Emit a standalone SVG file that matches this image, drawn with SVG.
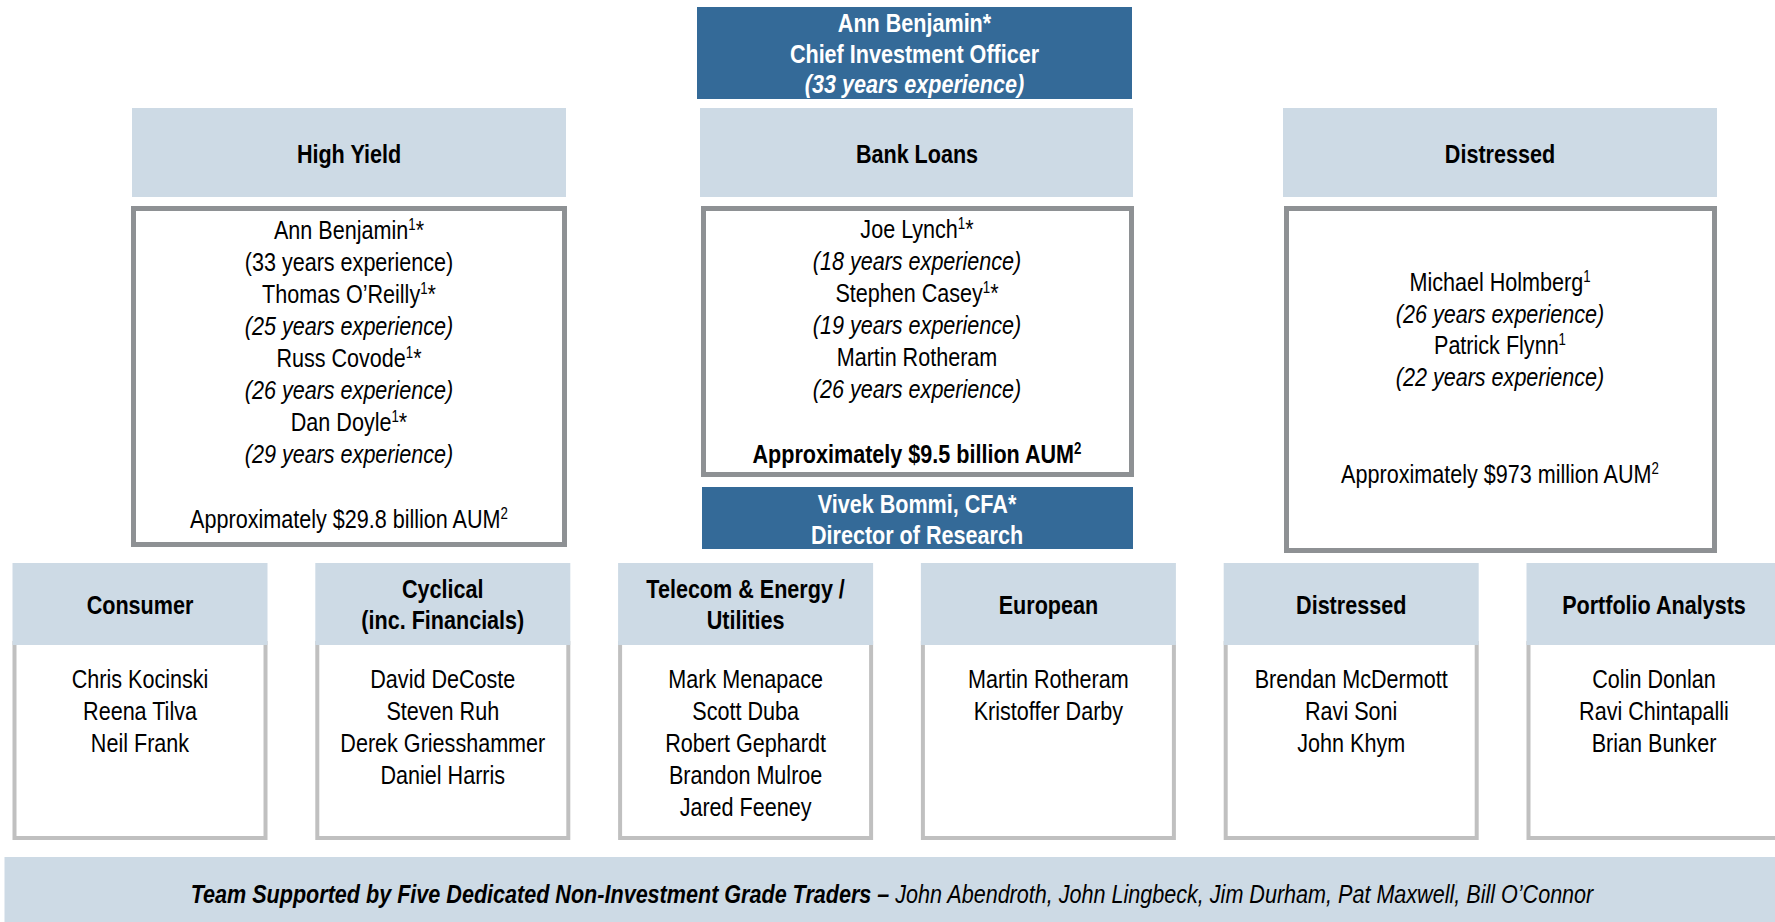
<svg xmlns="http://www.w3.org/2000/svg" width="1775" height="922" viewBox="0 0 1775 922">
  <style>
    .t { font-family: "Liberation Sans Narrow", "Arial Narrow", "Liberation Sans", Arial, sans-serif; font-size: 26px; fill: #000; text-anchor: middle; }
    .b { font-weight: bold; }
    .i { font-style: italic; }
    .w { fill: #fff; }
    .sup { font-size: 16px; }
    .dark { fill: #346a98; }
    .head { fill: #cddae5; }
    .frame { fill: #fff; stroke: #8e9194; stroke-width: 5; }
    .card { fill: #fff; stroke: #c0c0c0; stroke-width: 4; }
  </style>

  <!-- Chief Investment Officer -->
  <g id="cio">
    <rect class="dark" x="697" y="7" width="435" height="92"/>
    <g transform="translate(914.5 1.5) scale(0.83 1)">
      <text class="t b w" x="0" y="31">Ann Benjamin*</text>
      <text class="t b w" x="0" y="62">Chief Investment Officer</text>
      <text class="t b i w" x="0" y="92">(33 years experience)</text>
    </g>
  </g>

  <!-- High Yield -->
  <g id="high-yield">
    <rect class="head" x="132" y="108" width="434" height="89"/>
    <rect class="frame" x="133.5" y="208.5" width="431" height="336"/>
    <g transform="translate(349 1.5) scale(0.83 1)">
      <text class="t b" x="0" y="162">High Yield</text>
      <text class="t" x="0" y="238">Ann Benjamin<tspan class="sup" dy="-9">1</tspan><tspan dy="9">*</tspan></text>
      <text class="t" x="0" y="270">(33 years experience)</text>
      <text class="t" x="0" y="302">Thomas O’Reilly<tspan class="sup" dy="-9">1</tspan><tspan dy="9">*</tspan></text>
      <text class="t i" x="0" y="334">(25 years experience)</text>
      <text class="t" x="0" y="366">Russ Covode<tspan class="sup" dy="-9">1</tspan><tspan dy="9">*</tspan></text>
      <text class="t i" x="0" y="398">(26 years experience)</text>
      <text class="t" x="0" y="430">Dan Doyle<tspan class="sup" dy="-9">1</tspan><tspan dy="9">*</tspan></text>
      <text class="t i" x="0" y="462">(29 years experience)</text>
      <text class="t" x="0" y="527">Approximately $29.8 billion AUM<tspan class="sup" dy="-9">2</tspan></text>
    </g>
  </g>

  <!-- Bank Loans -->
  <g id="bank-loans">
    <rect class="head" x="700" y="108" width="433" height="89"/>
    <rect class="frame" x="703.5" y="208.5" width="428" height="266"/>
    <g transform="translate(917 1.5) scale(0.83 1)">
      <text class="t b" x="0" y="162">Bank Loans</text>
      <text class="t" x="0" y="237">Joe Lynch<tspan class="sup" dy="-9">1</tspan><tspan dy="9">*</tspan></text>
      <text class="t i" x="0" y="269">(18 years experience)</text>
      <text class="t" x="0" y="301">Stephen Casey<tspan class="sup" dy="-9">1</tspan><tspan dy="9">*</tspan></text>
      <text class="t i" x="0" y="333">(19 years experience)</text>
      <text class="t" x="0" y="365">Martin Rotheram</text>
      <text class="t i" x="0" y="397">(26 years experience)</text>
      <text class="t b" x="0" y="462">Approximately $9.5 billion AUM<tspan class="sup" dy="-9">2</tspan></text>
    </g>
  </g>

  <!-- Director of Research -->
  <g id="research">
    <rect class="dark" x="702" y="487" width="431" height="62"/>
    <g transform="translate(917 1.5) scale(0.83 1)">
      <text class="t b w" x="0" y="512">Vivek Bommi, CFA*</text>
      <text class="t b w" x="0" y="543">Director of Research</text>
    </g>
  </g>

  <!-- Distressed -->
  <g id="distressed">
    <rect class="head" x="1283" y="108" width="434" height="89"/>
    <rect class="frame" x="1286.5" y="208.5" width="428" height="342"/>
    <g transform="translate(1500 1.5) scale(0.83 1)">
      <text class="t b" x="0" y="162">Distressed</text>
      <text class="t" x="0" y="290">Michael Holmberg<tspan class="sup" dy="-9">1</tspan></text>
      <text class="t i" x="0" y="322">(26 years experience)</text>
      <text class="t" x="0" y="353">Patrick Flynn<tspan class="sup" dy="-9">1</tspan></text>
      <text class="t i" x="0" y="385">(22 years experience)</text>
      <text class="t" x="0" y="482">Approximately $973 million AUM<tspan class="sup" dy="-9">2</tspan></text>
    </g>
  </g>

  <!-- Sector teams -->
  <g id="consumer">
    <rect class="card" x="14.5" y="643" width="251" height="195"/>
    <rect class="head" x="12.5" y="563" width="255" height="82"/>
    <g transform="translate(140 1.5) scale(0.83 1)">
      <text class="t b" x="0" y="613">Consumer</text>
      <text class="t" x="0" y="687">Chris Kocinski</text>
      <text class="t" x="0" y="719">Reena Tilva</text>
      <text class="t" x="0" y="751">Neil Frank</text>
    </g>
  </g>

  <g id="cyclical">
    <rect class="card" x="317.3" y="643" width="251" height="195"/>
    <rect class="head" x="315.3" y="563" width="255" height="82"/>
    <g transform="translate(442.8 1.5) scale(0.83 1)">
      <text class="t b" x="0" y="597">Cyclical</text>
      <text class="t b" x="0" y="628">(inc. Financials)</text>
      <text class="t" x="0" y="687">David DeCoste</text>
      <text class="t" x="0" y="719">Steven Ruh</text>
      <text class="t" x="0" y="751">Derek Griesshammer</text>
      <text class="t" x="0" y="783">Daniel Harris</text>
    </g>
  </g>

  <g id="telecom">
    <rect class="card" x="620.1" y="643" width="251" height="195"/>
    <rect class="head" x="618.1" y="563" width="255" height="82"/>
    <g transform="translate(745.6 1.5) scale(0.83 1)">
      <text class="t b" x="0" y="597">Telecom &amp; Energy /</text>
      <text class="t b" x="0" y="628">Utilities</text>
      <text class="t" x="0" y="687">Mark Menapace</text>
      <text class="t" x="0" y="719">Scott Duba</text>
      <text class="t" x="0" y="751">Robert Gephardt</text>
      <text class="t" x="0" y="783">Brandon Mulroe</text>
      <text class="t" x="0" y="815">Jared Feeney</text>
    </g>
  </g>

  <g id="european">
    <rect class="card" x="922.9" y="643" width="251" height="195"/>
    <rect class="head" x="920.9" y="563" width="255" height="82"/>
    <g transform="translate(1048.4 1.5) scale(0.83 1)">
      <text class="t b" x="0" y="613">European</text>
      <text class="t" x="0" y="687">Martin Rotheram</text>
      <text class="t" x="0" y="719">Kristoffer Darby</text>
    </g>
  </g>

  <g id="distressed-team">
    <rect class="card" x="1225.7" y="643" width="251" height="195"/>
    <rect class="head" x="1223.7" y="563" width="255" height="82"/>
    <g transform="translate(1351.2 1.5) scale(0.83 1)">
      <text class="t b" x="0" y="613">Distressed</text>
      <text class="t" x="0" y="687">Brendan McDermott</text>
      <text class="t" x="0" y="719">Ravi Soni</text>
      <text class="t" x="0" y="751">John Khym</text>
    </g>
  </g>

  <g id="portfolio-analysts">
    <rect class="card" x="1528.5" y="643" width="251" height="195"/>
    <rect class="head" x="1526.5" y="563" width="255" height="82"/>
    <g transform="translate(1654 1.5) scale(0.83 1)">
      <text class="t b" x="0" y="613">Portfolio Analysts</text>
      <text class="t" x="0" y="687">Colin Donlan</text>
      <text class="t" x="0" y="719">Ravi Chintapalli</text>
      <text class="t" x="0" y="751">Brian Bunker</text>
    </g>
  </g>

  <!-- Trading support banner -->
  <g id="traders">
    <rect class="head" x="4.5" y="857" width="1771" height="65"/>
    <g transform="translate(892 2) scale(0.83 1)">
      <text class="t i" x="0" y="901"><tspan class="b">Team Supported by Five Dedicated Non-Investment Grade Traders – </tspan>John Abendroth, John Lingbeck, Jim Durham, Pat Maxwell, Bill O’Connor</text>
    </g>
  </g>
</svg>
